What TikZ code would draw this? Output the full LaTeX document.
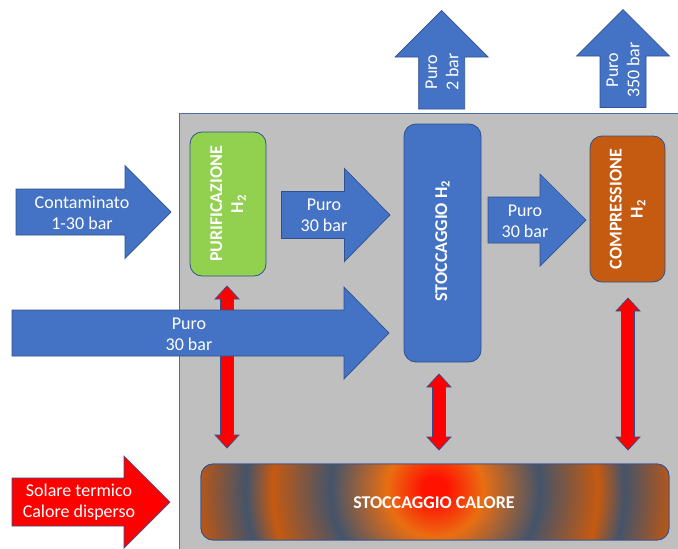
\documentclass[tikz,border=0pt]{standalone}
\usepackage{fontspec}
\setmainfont{Carlito}
\definecolor{ablue}{HTML}{4472C4}
\definecolor{aborder}{HTML}{2F528F}
\definecolor{agreen}{HTML}{92D050}
\definecolor{aorange}{HTML}{C55A11}
\definecolor{ared}{HTML}{FF0000}
\definecolor{apanel}{HTML}{BFBFBF}
\definecolor{apanelborder}{HTML}{4A6FA5}
\definecolor{hred}{HTML}{FF1200}
\definecolor{horange}{HTML}{EA6E12}
\definecolor{hdark}{HTML}{44546A}
\definecolor{hbrown}{HTML}{C55A11}
\definecolor{hedge}{HTML}{B4561A}
\pgfdeclareradialshading{heatshade}{\pgfpoint{0bp}{0bp}}{color(0bp)=(hred); color(1.25bp)=(hred); color(5bp)=(horange); color(10.9bp)=(hdark); color(17bp)=(hbrown); color(19.7bp)=(hdark); color(24.4bp)=(hedge); color(50bp)=(hedge)}
\newcommand\mkharrow[7]{\filldraw[#1] (#2,#5-#6) -- (#3,#5-#6) -- (#3,#5-#7) -- (#4,#5) -- (#3,#5+#7) -- (#3,#5+#6) -- (#2,#5+#6) -- cycle;}
\newcommand\mkvarrow[7]{\filldraw[#1] (#2-#3,#7) -- (#2-#3,#6) -- (#2-#4,#6) -- (#2,#5) -- (#2+#4,#6) -- (#2+#3,#6) -- (#2+#3,#7) -- cycle;}
\newcommand\mkdarrow[3]{\filldraw[redarrow] (#1,#2) -- (#1+12,#2+13) -- (#1+6.5,#2+13) -- (#1+6.5,#3-13) -- (#1+12,#3-13) -- (#1,#3) -- (#1-12,#3-13) -- (#1-6.5,#3-13) -- (#1-6.5,#2+13) -- (#1-12,#2+13) -- cycle;}
\tikzset{
  bluearrow/.style={fill=ablue, draw=aborder, line width=0.7pt},
  redarrow/.style={fill=ared, draw=aborder, line width=0.7pt},
  procbox/.style={draw=aborder, line width=0.8pt, rounded corners=12pt, inner sep=0pt},
  lbl/.style={text=white, align=center, font=\fontsize{18}{21.2}\selectfont, inner sep=0pt},
  blbl/.style={text=white, align=center, font=\fontsize{18}{21.2}\selectfont\bfseries, inner sep=0pt},
}
\begin{document}
\begin{tikzpicture}[x=1pt, y=-1pt]
\useasboundingbox (0,0) rectangle (678,549);
\fill[white] (0,0) rectangle (678,549);
% panel
\fill[apanel] (179,113) rectangle (678,549);
\draw[apanelborder, line width=0.9pt] (179,549) -- (179,113) -- (678,113);
% boxes
\node[procbox, fill=agreen, minimum width=76pt, minimum height=144pt] (purif) at (228,204) {};
\node[procbox, fill=ablue, minimum width=77pt, minimum height=238pt] (stocc) at (442.5,243) {};
\node[procbox, fill=aorange, minimum width=75pt, minimum height=146pt] (compr) at (627.5,209) {};
\node[procbox, minimum width=468pt, minimum height=76pt] (heat) at (435,502) {};
\begin{scope}
  \clip[rounded corners=12pt] (201,464) rectangle (669,540);
  \shade[shading=heatshade] (435,489) circle (240pt);
\end{scope}
\draw[aborder, line width=0.8pt, rounded corners=12pt] (201,464) rectangle (669,540);
% red double arrows
\mkdarrow{227}{286}{448}
\mkdarrow{439}{374}{450}
\mkdarrow{628}{298}{450}
% blue arrows
\mkharrow{bluearrow}{16}{125}{171}{212}{23}{46.5}
\mkharrow{bluearrow}{281.5}{344.5}{390}{215}{23.5}{46.5}
\mkharrow{bluearrow}{488}{540}{586}{220}{23}{46}
\mkharrow{bluearrow}{12}{344}{389}{333}{23}{46}
\mkharrow{redarrow}{12}{124}{170}{502}{24}{46}
\mkvarrow{bluearrow}{441.7}{23}{46.5}{10.5}{57}{109}
\mkvarrow{bluearrow}{623}{23}{46.5}{9.5}{56}{107.5}
% labels
\node[blbl, rotate=90] (purifl) at (purif.center) {PURIFICAZIONE\\H\textsubscript{2}};
\node[blbl, rotate=90] (stoccl) at (442.5,241) {STOCCAGGIO H\textsubscript{2}};
\node[blbl, rotate=90] (comprl) at (compr.center) {COMPRESSIONE\\H\textsubscript{2}};
\node[blbl] (heatl) at (434,503) {STOCCAGGIO CALORE};
\node[lbl] (contl) at (82,213) {Contaminato\\1-30 bar};
\node[lbl] (puro1) at (324,215) {Puro\\30 bar};
\node[lbl] (puro2) at (525,221) {Puro\\30 bar};
\node[lbl] (puro3) at (189,334) {Puro\\30 bar};
\node[lbl] (solare) at (79,502) {Solare termico\\Calore disperso};
\node[lbl, rotate=90] (top1) at (442,72) {Puro\\2 bar};
\node[lbl, rotate=90] (top2) at (623,70) {Puro\\350 bar};
\end{tikzpicture}
\end{document}
